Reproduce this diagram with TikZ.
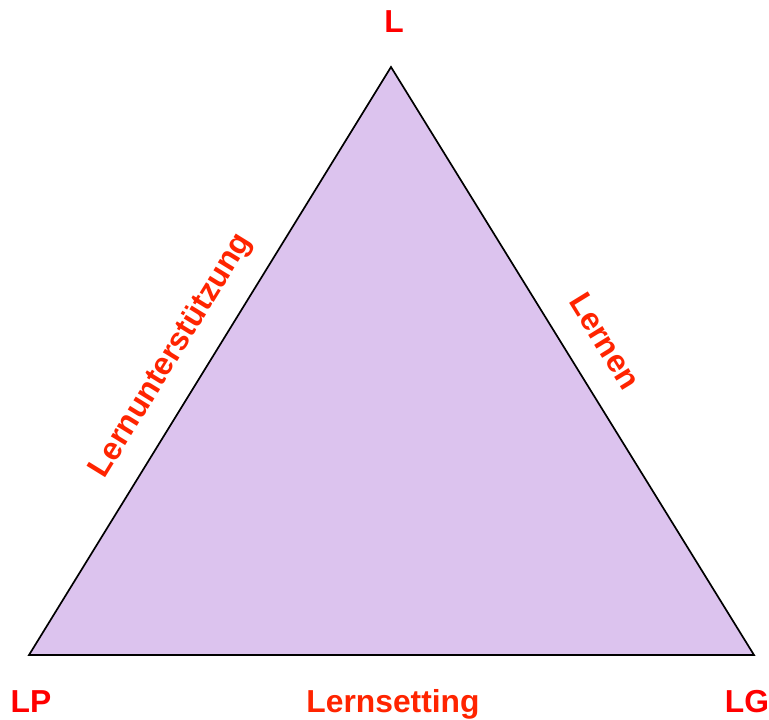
\documentclass[tikz,border=0pt]{standalone}
\usepackage{fontspec}
\setmainfont{Liberation Sans}
\definecolor{lila}{RGB}{220,195,238}
\definecolor{eckrot}{RGB}{255,0,0}
\definecolor{kantrot}{RGB}{255,36,0}
\tikzset{
	ecke/.style={text=eckrot,font=\fontsize{22.6}{27}\selectfont\bfseries,inner sep=0pt,anchor=base},
	kante/.style={text=kantrot,font=\fontsize{22.6}{27}\selectfont\bfseries,inner sep=0pt}
}
\begin{document}
\begin{tikzpicture}[x=0.025cm,y=-0.025cm]
	\useasboundingbox (0,0) rectangle (769,719);
	
	\coordinate (top) at (391,67);
	\coordinate (left) at (29,655);
	\coordinate (right) at (754,655);
	\draw[fill=lila,line width=1.2pt,line join=miter] (top) -- (left) -- (right) -- cycle;
	
	\node[ecke] (L) at (394,32){L};
	\node[ecke] (LP) at (31,712){LP};
	\node[ecke] (LG) at (747,712){LG};
	
	\node[ecke,text=kantrot] (setting) at (393,712){Lernsetting};
	\node[kante,rotate=58.4] (unterst) at (172,356){Lernunterstützung};
	\node[kante,rotate=-58.4] (lernen) at (605,341){Lernen};
\end{tikzpicture}
\end{document}
